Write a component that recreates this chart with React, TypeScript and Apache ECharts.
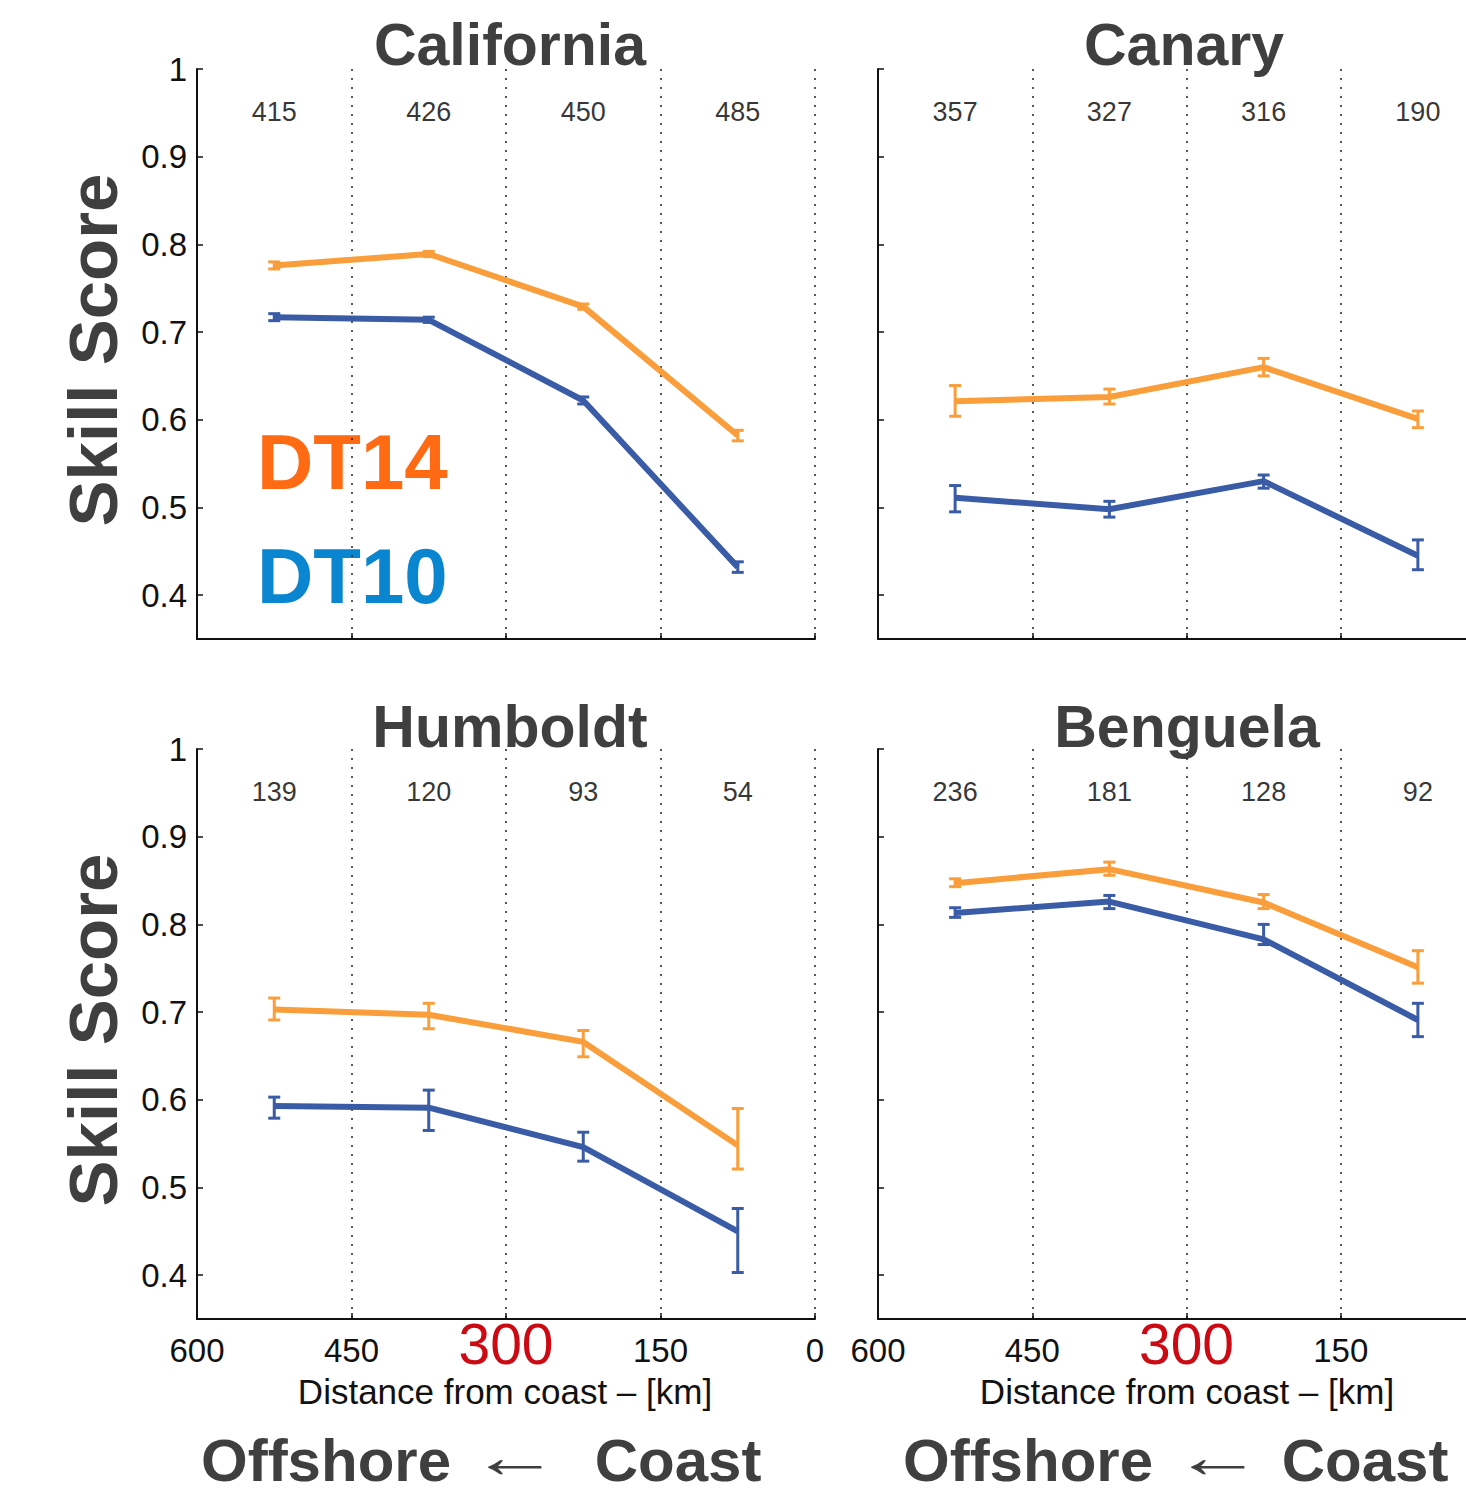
import React, { useEffect, useRef } from "react";
import * as echarts from "echarts";

// Distance from coast (km) of the four bins
const xPositions = [525, 375, 225, 75];
const yTickValues = [0.4, 0.5, 0.6, 0.7, 0.8, 0.9, 1];

const regionNames = ["California", "Canary", "Humboldt", "Benguela"];

// California
const californiaCounts = ["415", "426", "450", "485"];
const californiaDT14 = [0.776, 0.789, 0.729, 0.582];
const californiaDT14Range = [[0.772, 0.780], [0.786, 0.792], [0.726, 0.732], [0.576, 0.588]];
const californiaDT10 = [0.717, 0.714, 0.622, 0.432];
const californiaDT10Range = [[0.713, 0.721], [0.711, 0.717], [0.618, 0.626], [0.426, 0.438]];

// Canary
const canaryCounts = ["357", "327", "316", "190"];
const canaryDT14 = [0.621, 0.626, 0.660, 0.601];
const canaryDT14Range = [[0.604, 0.639], [0.618, 0.635], [0.650, 0.670], [0.591, 0.610]];
const canaryDT10 = [0.511, 0.498, 0.530, 0.445];
const canaryDT10Range = [[0.495, 0.525], [0.489, 0.507], [0.522, 0.537], [0.429, 0.463]];

// Humboldt
const humboldtCounts = ["139", "120", "93", "54"];
const humboldtDT14 = [0.703, 0.697, 0.666, 0.548];
const humboldtDT14Range = [[0.691, 0.716], [0.681, 0.710], [0.649, 0.679], [0.521, 0.590]];
const humboldtDT10 = [0.593, 0.591, 0.546, 0.450];
const humboldtDT10Range = [[0.579, 0.603], [0.565, 0.611], [0.530, 0.563], [0.403, 0.476]];

// Benguela
const benguelaCounts = ["236", "181", "128", "92"];
const benguelaDT14 = [0.847, 0.863, 0.825, 0.751];
const benguelaDT14Range = [[0.843, 0.852], [0.856, 0.871], [0.818, 0.834], [0.733, 0.770]];
const benguelaDT10 = [0.813, 0.826, 0.783, 0.691];
const benguelaDT10Range = [[0.808, 0.819], [0.818, 0.833], [0.777, 0.800], [0.672, 0.710]];

const countLabelLevel = 0.951;

const ORANGE = "#F99E3A";
const BLUE = "#3A5CA6";
const TITLE_COLOR = "#3F3F3F";
const FONT = "'Liberation Sans', Arial, Helvetica, sans-serif";

export default function App() {
  const ref = useRef<HTMLDivElement>(null);

  useEffect(() => {
    if (!ref.current) return;
    const chart = echarts.init(ref.current, null, { renderer: "svg" });

    const panels = [
      { counts: californiaCounts, dt14: californiaDT14, dt14R: californiaDT14Range, dt10: californiaDT10, dt10R: californiaDT10Range },
      { counts: canaryCounts, dt14: canaryDT14, dt14R: canaryDT14Range, dt10: canaryDT10, dt10R: canaryDT10Range },
      { counts: humboldtCounts, dt14: humboldtDT14, dt14R: humboldtDT14Range, dt10: humboldtDT10, dt10R: humboldtDT10Range },
      { counts: benguelaCounts, dt14: benguelaDT14, dt14R: benguelaDT14Range, dt10: benguelaDT10, dt10R: benguelaDT10Range },
    ];

    const grids = [
      { left: 197, top: 69, width: 618, height: 570 },
      { left: 878, top: 69, width: 617, height: 570 },
      { left: 197, top: 749, width: 618, height: 570 },
      { left: 878, top: 749, width: 617, height: 570 },
    ];

    const xAxes = grids.map((_, i) => ({
      gridIndex: i,
      type: "value",
      min: 0,
      max: 600,
      interval: 150,
      inverse: true,
      axisLine: { show: true, onZero: false, lineStyle: { color: "#111", width: 2 } },
      axisTick: { show: true, inside: true, length: 6, lineStyle: { color: "#111", width: 1.5 } },
      axisLabel: {
        show: i >= 2,
        showMinLabel: true,
        showMaxLabel: true,
        margin: 13,
        formatter: (v: number) => {
          if (i === 3 && v === 0) return ""; // falls outside the visible page
          return v === 300 ? `{r|${v}}` : `{n|${v}}`;
        },
        rich: {
          n: { fontSize: 33, lineHeight: 36, color: "#111", fontFamily: FONT },
          r: { fontSize: 57, lineHeight: 24, color: "#CC0A14", fontFamily: FONT },
        },
      },
      splitLine: { show: true, lineStyle: { color: "#222", width: 1.5, type: [2, 7] } },
    }));

    const yAxes = grids.map((_, i) => ({
      gridIndex: i,
      type: "value",
      min: 0.35,
      max: 1,
      axisLine: { show: true, onZero: false, lineStyle: { color: "#111", width: 2 } },
      axisTick: { show: true, inside: true, length: 6, customValues: yTickValues, lineStyle: { color: "#111", width: 1.5 } },
      axisLabel: {
        show: i % 2 === 0,
        customValues: yTickValues,
        margin: 10,
        fontSize: 33,
        color: "#111",
        fontFamily: FONT,
        formatter: (v: number) => (Math.abs(v - 1) < 1e-9 ? "1" : v.toFixed(1)),
      },
      splitLine: { show: false },
    }));

    const errorSeries = (i: number, range: number[][], color: string) => ({
      type: "custom",
      xAxisIndex: i,
      yAxisIndex: i,
      z: 4,
      silent: true,
      data: xPositions.map((x, k) => [x, range[k][0], range[k][1]]),
      encode: { x: 0, y: [1, 2] },
      renderItem: (params: any, api: any) => {
        const lo = api.coord([api.value(0), api.value(1)]);
        const hi = api.coord([api.value(0), api.value(2)]);
        const w = 6;
        const style = { stroke: color, lineWidth: 3, fill: "none" };
        return {
          type: "group",
          children: [
            { type: "line", shape: { x1: lo[0], y1: lo[1], x2: hi[0], y2: hi[1] }, style },
            { type: "line", shape: { x1: lo[0] - w, y1: lo[1], x2: lo[0] + w, y2: lo[1] }, style },
            { type: "line", shape: { x1: hi[0] - w, y1: hi[1], x2: hi[0] + w, y2: hi[1] }, style },
          ],
        };
      },
    });

    const series: any[] = [];
    panels.forEach((p, i) => {
      series.push({
        type: "line",
        name: "DT10",
        xAxisIndex: i,
        yAxisIndex: i,
        symbol: "none",
        z: 3,
        silent: true,
        lineStyle: { color: BLUE, width: 6 },
        data: xPositions.map((x, k) => [x, p.dt10[k]]),
      });
      series.push({
        type: "line",
        name: "DT14",
        xAxisIndex: i,
        yAxisIndex: i,
        symbol: "none",
        z: 3,
        silent: true,
        lineStyle: { color: ORANGE, width: 6 },
        data: xPositions.map((x, k) => [x, p.dt14[k]]),
      });
      series.push(errorSeries(i, p.dt10R, BLUE));
      series.push(errorSeries(i, p.dt14R, ORANGE));
      series.push({
        type: "scatter",
        xAxisIndex: i,
        yAxisIndex: i,
        symbolSize: 1,
        silent: true,
        itemStyle: { color: "rgba(0,0,0,0)" },
        label: {
          show: true,
          position: "inside",
          fontSize: 27,
          color: "#000",
          fontFamily: FONT,
          formatter: (prm: any) => p.counts[prm.dataIndex],
        },
        data: xPositions.map((x) => [x, countLabelLevel]),
      });
    });

    const titlePos = [
      [510, 45],
      [1184, 45],
      [510, 727],
      [1187, 727],
    ];

    const graphic: any[] = [];
    regionNames.forEach((name, i) => {
      graphic.push({
        type: "text",
        x: titlePos[i][0],
        y: titlePos[i][1],
        style: {
          text: name,
          fontSize: 59,
          fontWeight: "bold",
          fontFamily: FONT,
          fill: TITLE_COLOR,
          textAlign: "center",
          textVerticalAlign: "middle",
        },
      });
    });

    [350, 1030].forEach((cy) => {
      graphic.push({
        type: "text",
        x: 93,
        y: cy,
        rotation: Math.PI / 2,
        style: {
          text: "Skill Score",
          fontSize: 69,
          fontWeight: "bold",
          fontFamily: FONT,
          fill: TITLE_COLOR,
          textAlign: "center",
          textVerticalAlign: "middle",
        },
      });
    });

    graphic.push({
      type: "text",
      x: 257,
      y: 462,
      style: { text: "DT14", fontSize: 78, fontWeight: "bold", fontFamily: FONT, fill: "#FF6A12", textAlign: "left", textVerticalAlign: "middle" },
    });
    graphic.push({
      type: "text",
      x: 257,
      y: 576,
      style: { text: "DT10", fontSize: 78, fontWeight: "bold", fontFamily: FONT, fill: "#0A86D0", textAlign: "left", textVerticalAlign: "middle" },
    });

    [
      { cx: 505, off: 326, arr: 515, coast: 678 },
      { cx: 1187, off: 1028, arr: 1218, coast: 1365 },
    ].forEach((b) => {
      graphic.push({
        type: "text",
        x: b.cx,
        y: 1391,
        style: { text: "Distance from coast \u2013 [km]", fontSize: 35, fontFamily: FONT, fill: "#111", textAlign: "center", textVerticalAlign: "middle" },
      });
      graphic.push({
        type: "text",
        x: b.off,
        y: 1460,
        style: { text: "Offshore", fontSize: 60, fontWeight: "bold", fontFamily: FONT, fill: TITLE_COLOR, textAlign: "center", textVerticalAlign: "middle" },
      });
      graphic.push({
        type: "text",
        x: b.arr,
        y: 1456,
        scaleX: 1.5,
        style: { text: "\u2190", fontSize: 60, fontFamily: FONT, fill: TITLE_COLOR, textAlign: "center", textVerticalAlign: "middle" },
      });
      graphic.push({
        type: "text",
        x: b.coast,
        y: 1460,
        style: { text: "Coast", fontSize: 60, fontWeight: "bold", fontFamily: FONT, fill: TITLE_COLOR, textAlign: "center", textVerticalAlign: "middle" },
      });
    });

    chart.setOption({
      animation: false,
      backgroundColor: "#ffffff",
      grid: grids,
      xAxis: xAxes,
      yAxis: yAxes,
      series,
      graphic,
    });

    return () => chart.dispose();
  }, []);

  return (
    <div
      ref={ref}
      style={{ position: "fixed", left: 0, top: 0, width: 1520, height: 1497, background: "#fff" }}
    />
  );
}
